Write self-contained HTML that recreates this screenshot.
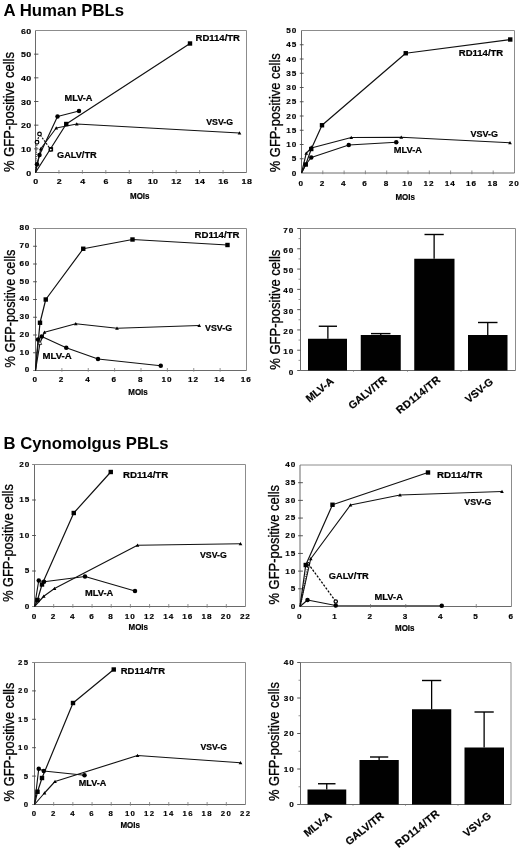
<!DOCTYPE html>
<html><head><meta charset="utf-8"><title>GFP-positive cells</title>
<style>
html,body{margin:0;padding:0;background:#fff;}
svg{display:block;font-family:"Liberation Sans", Arial, Helvetica, sans-serif;will-change:transform;opacity:0.999;}
.ti{font-size:16.2px;font-weight:bold;fill:#000;}
.tk{font-size:6.8px;font-weight:bold;fill:#000;letter-spacing:0.3px;stroke:#000;stroke-width:0.15px;}
.yl{fill:#000;stroke:#000;stroke-width:0.3px;}
.mo{font-size:8.6px;font-weight:bold;fill:#000;stroke:#000;stroke-width:0.2px;}
.lb{font-weight:bold;fill:#000;stroke:#000;stroke-width:0.2px;}
</style></head><body>
<svg width="520" height="850" viewBox="0 0 520 850">
<rect width="520" height="850" fill="#fff"/>
<text x="3.6" y="16.2" class="ti" textLength="120.6" lengthAdjust="spacingAndGlyphs">A Human PBLs</text>
<text x="3.5" y="449.2" class="ti" textLength="165" lengthAdjust="spacingAndGlyphs">B Cynomolgus PBLs</text>
<polyline points="35.5,30.5 246.5,30.5 246.5,172.5" fill="none" stroke="#8c8c8c" stroke-width="1"/>
<polyline points="35.5,30.5 35.5,172.5 246.5,172.5" fill="none" stroke="#6a6a6a" stroke-width="1"/>
<text transform="translate(35.90,184.20) scale(1.3,1)" class="tk" text-anchor="middle" style="letter-spacing:0.3px">0</text>
<line x1="58.94" y1="173.7" x2="58.94" y2="170.0" stroke="#777" stroke-width="0.8"/>
<text transform="translate(59.34,184.20) scale(1.3,1)" class="tk" text-anchor="middle" style="letter-spacing:0.3px">2</text>
<line x1="82.39" y1="173.7" x2="82.39" y2="170.0" stroke="#777" stroke-width="0.8"/>
<text transform="translate(82.78,184.20) scale(1.3,1)" class="tk" text-anchor="middle" style="letter-spacing:0.3px">4</text>
<line x1="105.83" y1="173.7" x2="105.83" y2="170.0" stroke="#777" stroke-width="0.8"/>
<text transform="translate(106.23,184.20) scale(1.3,1)" class="tk" text-anchor="middle" style="letter-spacing:0.3px">6</text>
<line x1="129.28" y1="173.7" x2="129.28" y2="170.0" stroke="#777" stroke-width="0.8"/>
<text transform="translate(129.67,184.20) scale(1.3,1)" class="tk" text-anchor="middle" style="letter-spacing:0.3px">8</text>
<line x1="152.72" y1="173.7" x2="152.72" y2="170.0" stroke="#777" stroke-width="0.8"/>
<text transform="translate(153.12,184.20) scale(1.3,1)" class="tk" text-anchor="middle" style="letter-spacing:0.3px">10</text>
<line x1="176.17" y1="173.7" x2="176.17" y2="170.0" stroke="#777" stroke-width="0.8"/>
<text transform="translate(176.56,184.20) scale(1.3,1)" class="tk" text-anchor="middle" style="letter-spacing:0.3px">12</text>
<line x1="199.61" y1="173.7" x2="199.61" y2="170.0" stroke="#777" stroke-width="0.8"/>
<text transform="translate(200.01,184.20) scale(1.3,1)" class="tk" text-anchor="middle" style="letter-spacing:0.3px">14</text>
<line x1="223.06" y1="173.7" x2="223.06" y2="170.0" stroke="#777" stroke-width="0.8"/>
<text transform="translate(223.45,184.20) scale(1.3,1)" class="tk" text-anchor="middle" style="letter-spacing:0.3px">16</text>
<text transform="translate(246.89,184.20) scale(1.3,1)" class="tk" text-anchor="middle" style="letter-spacing:0.3px">18</text>
<text transform="translate(31.52,175.70) scale(1.3,1)" class="tk" text-anchor="end" style="letter-spacing:0.3px">0</text>
<line x1="34.1" y1="148.83" x2="38.4" y2="148.83" stroke="#444" stroke-width="0.9"/>
<text transform="translate(31.52,152.03) scale(1.3,1)" class="tk" text-anchor="end" style="letter-spacing:0.3px">10</text>
<line x1="34.1" y1="125.17" x2="38.4" y2="125.17" stroke="#444" stroke-width="0.9"/>
<text transform="translate(31.52,128.37) scale(1.3,1)" class="tk" text-anchor="end" style="letter-spacing:0.3px">20</text>
<line x1="34.1" y1="101.50" x2="38.4" y2="101.50" stroke="#444" stroke-width="0.9"/>
<text transform="translate(31.52,104.70) scale(1.3,1)" class="tk" text-anchor="end" style="letter-spacing:0.3px">30</text>
<line x1="34.1" y1="77.83" x2="38.4" y2="77.83" stroke="#444" stroke-width="0.9"/>
<text transform="translate(31.52,81.03) scale(1.3,1)" class="tk" text-anchor="end" style="letter-spacing:0.3px">40</text>
<line x1="34.1" y1="54.17" x2="38.4" y2="54.17" stroke="#444" stroke-width="0.9"/>
<text transform="translate(31.52,57.37) scale(1.3,1)" class="tk" text-anchor="end" style="letter-spacing:0.3px">50</text>
<text transform="translate(31.52,33.70) scale(1.3,1)" class="tk" text-anchor="end" style="letter-spacing:0.3px">60</text>
<text transform="translate(14.4,112) rotate(-90)" text-anchor="middle" class="yl" style="font-size:15.3px" textLength="120" lengthAdjust="spacingAndGlyphs">% GFP-positive cells</text>
<text x="130.0" y="198.75" class="mo" textLength="19.5" lengthAdjust="spacingAndGlyphs">MOIs</text>
<polyline points="35.50,172.50 37.00,142.25" fill="none" stroke="#222" stroke-width="1.0" stroke-dasharray="1.1,1.1" stroke-linejoin="round"/>
<polyline points="37.00,142.25 39.50,134.00 50.75,149.60" fill="none" stroke="#111" stroke-width="1.1" stroke-dasharray="2,1.3" stroke-linejoin="round"/>
<polyline points="35.50,172.50 66.25,124.00 190.00,43.50" fill="none" stroke="#111" stroke-width="1.2" stroke-linejoin="round"/>
<polyline points="35.50,172.50 37.00,164.25 39.50,155.00 57.50,116.50 79.00,111.00" fill="none" stroke="#111" stroke-width="1.15" stroke-linejoin="round"/>
<polyline points="35.50,172.50 40.75,148.75 56.25,128.00 76.75,124.00 239.50,133.00" fill="none" stroke="#111" stroke-width="1.12" stroke-linejoin="round"/>
<rect x="48.70" y="147.10" width="4.4" height="4.4" fill="#000"/>
<rect x="64.05" y="121.80" width="4.4" height="4.4" fill="#000"/>
<rect x="187.80" y="41.30" width="4.4" height="4.4" fill="#000"/>
<circle cx="37.00" cy="164.25" r="2.25" fill="#000"/>
<circle cx="39.50" cy="155.00" r="2.25" fill="#000"/>
<circle cx="57.50" cy="116.50" r="2.25" fill="#000"/>
<circle cx="79.00" cy="111.00" r="2.25" fill="#000"/>
<polygon points="40.75,146.90 38.90,150.23 42.60,150.23" fill="#000"/>
<polygon points="56.25,126.15 54.40,129.48 58.10,129.48" fill="#000"/>
<polygon points="76.75,122.15 74.90,125.48 78.60,125.48" fill="#000"/>
<polygon points="239.50,131.15 237.65,134.48 241.35,134.48" fill="#000"/>
<circle cx="37.00" cy="142.25" r="1.8" fill="#fff" stroke="#000" stroke-width="1.2"/>
<circle cx="39.50" cy="134.00" r="1.8" fill="#fff" stroke="#000" stroke-width="1.2"/>
<circle cx="50.75" cy="149.60" r="1.5" fill="#fff" stroke="#000" stroke-width="1.2"/>
<text x="195.5" y="40.75" class="lb" text-anchor="start" style="font-size:8.8px" textLength="44.50" lengthAdjust="spacingAndGlyphs">RD114/TR</text>
<text x="64.5" y="100.5" class="lb" text-anchor="start" style="font-size:8.8px" textLength="28.00" lengthAdjust="spacingAndGlyphs">MLV-A</text>
<text x="206.25" y="125" class="lb" text-anchor="start" style="font-size:8.8px" textLength="26.75" lengthAdjust="spacingAndGlyphs">VSV-G</text>
<text x="57" y="158" class="lb" text-anchor="start" style="font-size:8.8px" textLength="39.70" lengthAdjust="spacingAndGlyphs">GALV/TR</text>
<polyline points="301.5,30.5 514.5,30.5 514.5,173" fill="none" stroke="#8c8c8c" stroke-width="1"/>
<polyline points="301.5,30.5 301.5,173 514.5,173" fill="none" stroke="#6a6a6a" stroke-width="1"/>
<text transform="translate(301.18,185.50) scale(1.2,1)" class="tk" text-anchor="middle" style="letter-spacing:0.8px">0</text>
<line x1="322.80" y1="174.2" x2="322.80" y2="170.5" stroke="#777" stroke-width="0.8"/>
<text transform="translate(322.48,185.50) scale(1.2,1)" class="tk" text-anchor="middle" style="letter-spacing:0.8px">2</text>
<line x1="344.10" y1="174.2" x2="344.10" y2="170.5" stroke="#777" stroke-width="0.8"/>
<text transform="translate(343.78,185.50) scale(1.2,1)" class="tk" text-anchor="middle" style="letter-spacing:0.8px">4</text>
<line x1="365.40" y1="174.2" x2="365.40" y2="170.5" stroke="#777" stroke-width="0.8"/>
<text transform="translate(365.08,185.50) scale(1.2,1)" class="tk" text-anchor="middle" style="letter-spacing:0.8px">6</text>
<line x1="386.70" y1="174.2" x2="386.70" y2="170.5" stroke="#777" stroke-width="0.8"/>
<text transform="translate(386.38,185.50) scale(1.2,1)" class="tk" text-anchor="middle" style="letter-spacing:0.8px">8</text>
<line x1="408.00" y1="174.2" x2="408.00" y2="170.5" stroke="#777" stroke-width="0.8"/>
<text transform="translate(407.68,185.50) scale(1.2,1)" class="tk" text-anchor="middle" style="letter-spacing:0.8px">10</text>
<line x1="429.30" y1="174.2" x2="429.30" y2="170.5" stroke="#777" stroke-width="0.8"/>
<text transform="translate(428.98,185.50) scale(1.2,1)" class="tk" text-anchor="middle" style="letter-spacing:0.8px">12</text>
<line x1="450.60" y1="174.2" x2="450.60" y2="170.5" stroke="#777" stroke-width="0.8"/>
<text transform="translate(450.28,185.50) scale(1.2,1)" class="tk" text-anchor="middle" style="letter-spacing:0.8px">14</text>
<line x1="471.90" y1="174.2" x2="471.90" y2="170.5" stroke="#777" stroke-width="0.8"/>
<text transform="translate(471.58,185.50) scale(1.2,1)" class="tk" text-anchor="middle" style="letter-spacing:0.8px">16</text>
<line x1="493.20" y1="174.2" x2="493.20" y2="170.5" stroke="#777" stroke-width="0.8"/>
<text transform="translate(492.88,185.50) scale(1.2,1)" class="tk" text-anchor="middle" style="letter-spacing:0.8px">18</text>
<text transform="translate(514.18,185.50) scale(1.2,1)" class="tk" text-anchor="middle" style="letter-spacing:0.8px">20</text>
<text transform="translate(297.26,175.70) scale(1.2,1)" class="tk" text-anchor="end" style="letter-spacing:0.8px">0</text>
<line x1="299.8" y1="158.75" x2="303.6" y2="158.75" stroke="#444" stroke-width="0.9"/>
<text transform="translate(297.26,161.45) scale(1.2,1)" class="tk" text-anchor="end" style="letter-spacing:0.8px">5</text>
<line x1="299.8" y1="144.50" x2="303.6" y2="144.50" stroke="#444" stroke-width="0.9"/>
<text transform="translate(297.26,147.20) scale(1.2,1)" class="tk" text-anchor="end" style="letter-spacing:0.8px">10</text>
<line x1="299.8" y1="130.25" x2="303.6" y2="130.25" stroke="#444" stroke-width="0.9"/>
<text transform="translate(297.26,132.95) scale(1.2,1)" class="tk" text-anchor="end" style="letter-spacing:0.8px">15</text>
<line x1="299.8" y1="116.00" x2="303.6" y2="116.00" stroke="#444" stroke-width="0.9"/>
<text transform="translate(297.26,118.70) scale(1.2,1)" class="tk" text-anchor="end" style="letter-spacing:0.8px">20</text>
<line x1="299.8" y1="101.75" x2="303.6" y2="101.75" stroke="#444" stroke-width="0.9"/>
<text transform="translate(297.26,104.45) scale(1.2,1)" class="tk" text-anchor="end" style="letter-spacing:0.8px">25</text>
<line x1="299.8" y1="87.50" x2="303.6" y2="87.50" stroke="#444" stroke-width="0.9"/>
<text transform="translate(297.26,90.20) scale(1.2,1)" class="tk" text-anchor="end" style="letter-spacing:0.8px">30</text>
<line x1="299.8" y1="73.25" x2="303.6" y2="73.25" stroke="#444" stroke-width="0.9"/>
<text transform="translate(297.26,75.95) scale(1.2,1)" class="tk" text-anchor="end" style="letter-spacing:0.8px">35</text>
<line x1="299.8" y1="59.00" x2="303.6" y2="59.00" stroke="#444" stroke-width="0.9"/>
<text transform="translate(297.26,61.70) scale(1.2,1)" class="tk" text-anchor="end" style="letter-spacing:0.8px">40</text>
<line x1="299.8" y1="44.75" x2="303.6" y2="44.75" stroke="#444" stroke-width="0.9"/>
<text transform="translate(297.26,47.45) scale(1.2,1)" class="tk" text-anchor="end" style="letter-spacing:0.8px">45</text>
<text transform="translate(297.26,33.20) scale(1.2,1)" class="tk" text-anchor="end" style="letter-spacing:0.8px">50</text>
<text transform="translate(279.6,112.7) rotate(-90)" text-anchor="middle" class="yl" style="font-size:15.3px" textLength="119" lengthAdjust="spacingAndGlyphs">% GFP-positive cells</text>
<text x="395.45" y="200" class="mo" textLength="19.5" lengthAdjust="spacingAndGlyphs">MOIs</text>
<polyline points="301.50,173.00 305.75,164.50 311.25,149.00 322.00,125.25 405.75,53.25 510.25,39.50" fill="none" stroke="#111" stroke-width="1.2" stroke-linejoin="round"/>
<polyline points="301.50,173.00 306.25,153.25 311.25,148.00 351.25,137.50 401.25,137.25 510.00,142.75" fill="none" stroke="#111" stroke-width="1.12" stroke-linejoin="round"/>
<polyline points="301.50,173.00 305.75,164.50 311.25,157.50 348.75,145.00 396.25,142.25" fill="none" stroke="#111" stroke-width="1.12" stroke-linejoin="round"/>
<rect x="303.55" y="162.30" width="4.4" height="4.4" fill="#000"/>
<rect x="309.05" y="146.80" width="4.4" height="4.4" fill="#000"/>
<rect x="319.80" y="123.05" width="4.4" height="4.4" fill="#000"/>
<rect x="403.55" y="51.05" width="4.4" height="4.4" fill="#000"/>
<rect x="508.05" y="37.30" width="4.4" height="4.4" fill="#000"/>
<polygon points="306.25,151.40 304.40,154.73 308.10,154.73" fill="#000"/>
<polygon points="311.25,145.15 309.40,148.48 313.10,148.48" fill="#000"/>
<polygon points="351.25,135.65 349.40,138.98 353.10,138.98" fill="#000"/>
<polygon points="401.25,135.40 399.40,138.73 403.10,138.73" fill="#000"/>
<polygon points="510.00,140.90 508.15,144.23 511.85,144.23" fill="#000"/>
<circle cx="311.25" cy="157.50" r="2.25" fill="#000"/>
<circle cx="348.75" cy="145.00" r="2.25" fill="#000"/>
<circle cx="396.25" cy="142.25" r="2.25" fill="#000"/>
<text x="458.75" y="55.75" class="lb" text-anchor="start" style="font-size:8.8px" textLength="44.50" lengthAdjust="spacingAndGlyphs">RD114/TR</text>
<text x="470.5" y="136.75" class="lb" text-anchor="start" style="font-size:8.8px" textLength="27.50" lengthAdjust="spacingAndGlyphs">VSV-G</text>
<text x="393.75" y="153" class="lb" text-anchor="start" style="font-size:8.8px" textLength="28.25" lengthAdjust="spacingAndGlyphs">MLV-A</text>
<polyline points="35.5,228.5 246.5,228.5 246.5,370.5" fill="none" stroke="#8c8c8c" stroke-width="1"/>
<polyline points="35.5,228.5 35.5,370.5 246.5,370.5" fill="none" stroke="#6a6a6a" stroke-width="1"/>
<text transform="translate(35.18,382.40) scale(1.2,1)" class="tk" text-anchor="middle" style="letter-spacing:0.8px">0</text>
<line x1="61.88" y1="371.7" x2="61.88" y2="368.0" stroke="#777" stroke-width="0.8"/>
<text transform="translate(61.55,382.40) scale(1.2,1)" class="tk" text-anchor="middle" style="letter-spacing:0.8px">2</text>
<line x1="88.25" y1="371.7" x2="88.25" y2="368.0" stroke="#777" stroke-width="0.8"/>
<text transform="translate(87.93,382.40) scale(1.2,1)" class="tk" text-anchor="middle" style="letter-spacing:0.8px">4</text>
<line x1="114.62" y1="371.7" x2="114.62" y2="368.0" stroke="#777" stroke-width="0.8"/>
<text transform="translate(114.31,382.40) scale(1.2,1)" class="tk" text-anchor="middle" style="letter-spacing:0.8px">6</text>
<line x1="141.00" y1="371.7" x2="141.00" y2="368.0" stroke="#777" stroke-width="0.8"/>
<text transform="translate(140.68,382.40) scale(1.2,1)" class="tk" text-anchor="middle" style="letter-spacing:0.8px">8</text>
<line x1="167.38" y1="371.7" x2="167.38" y2="368.0" stroke="#777" stroke-width="0.8"/>
<text transform="translate(167.05,382.40) scale(1.2,1)" class="tk" text-anchor="middle" style="letter-spacing:0.8px">10</text>
<line x1="193.75" y1="371.7" x2="193.75" y2="368.0" stroke="#777" stroke-width="0.8"/>
<text transform="translate(193.43,382.40) scale(1.2,1)" class="tk" text-anchor="middle" style="letter-spacing:0.8px">12</text>
<line x1="220.12" y1="371.7" x2="220.12" y2="368.0" stroke="#777" stroke-width="0.8"/>
<text transform="translate(219.80,382.40) scale(1.2,1)" class="tk" text-anchor="middle" style="letter-spacing:0.8px">14</text>
<text transform="translate(246.18,382.40) scale(1.2,1)" class="tk" text-anchor="middle" style="letter-spacing:0.8px">16</text>
<line x1="33.1" y1="370.50" x2="35.5" y2="370.50" stroke="#666" stroke-width="0.8"/>
<text transform="translate(30.14,372.30) scale(1.2,1)" class="tk" text-anchor="end" style="letter-spacing:0.7px">0</text>
<line x1="33.1" y1="352.75" x2="36.9" y2="352.75" stroke="#444" stroke-width="0.9"/>
<text transform="translate(30.14,354.55) scale(1.2,1)" class="tk" text-anchor="end" style="letter-spacing:0.7px">10</text>
<line x1="33.1" y1="335.00" x2="36.9" y2="335.00" stroke="#444" stroke-width="0.9"/>
<text transform="translate(30.14,336.80) scale(1.2,1)" class="tk" text-anchor="end" style="letter-spacing:0.7px">20</text>
<line x1="33.1" y1="317.25" x2="36.9" y2="317.25" stroke="#444" stroke-width="0.9"/>
<text transform="translate(30.14,319.05) scale(1.2,1)" class="tk" text-anchor="end" style="letter-spacing:0.7px">30</text>
<line x1="33.1" y1="299.50" x2="36.9" y2="299.50" stroke="#444" stroke-width="0.9"/>
<text transform="translate(30.14,301.30) scale(1.2,1)" class="tk" text-anchor="end" style="letter-spacing:0.7px">40</text>
<line x1="33.1" y1="281.75" x2="36.9" y2="281.75" stroke="#444" stroke-width="0.9"/>
<text transform="translate(30.14,283.55) scale(1.2,1)" class="tk" text-anchor="end" style="letter-spacing:0.7px">50</text>
<line x1="33.1" y1="264.00" x2="36.9" y2="264.00" stroke="#444" stroke-width="0.9"/>
<text transform="translate(30.14,265.80) scale(1.2,1)" class="tk" text-anchor="end" style="letter-spacing:0.7px">60</text>
<line x1="33.1" y1="246.25" x2="36.9" y2="246.25" stroke="#444" stroke-width="0.9"/>
<text transform="translate(30.14,248.05) scale(1.2,1)" class="tk" text-anchor="end" style="letter-spacing:0.7px">70</text>
<line x1="33.1" y1="228.50" x2="35.5" y2="228.50" stroke="#666" stroke-width="0.8"/>
<text transform="translate(30.14,230.30) scale(1.2,1)" class="tk" text-anchor="end" style="letter-spacing:0.7px">80</text>
<text transform="translate(14.5,308.5) rotate(-90)" text-anchor="middle" class="yl" style="font-size:15.3px" textLength="118" lengthAdjust="spacingAndGlyphs">% GFP-positive cells</text>
<text x="128.25" y="395" class="mo" textLength="19.5" lengthAdjust="spacingAndGlyphs">MOIs</text>
<polyline points="35.50,370.50 40.00,322.75 45.75,299.50 83.25,248.75 132.50,239.50 227.50,245.00" fill="none" stroke="#111" stroke-width="1.2" stroke-linejoin="round"/>
<polyline points="35.50,370.50 40.00,343.00 44.50,332.25 75.75,323.75 117.00,328.25 199.25,325.50" fill="none" stroke="#111" stroke-width="1.12" stroke-linejoin="round"/>
<polyline points="35.50,370.50 38.00,339.50 41.75,336.50 66.25,347.75 98.00,359.00 160.75,365.75" fill="none" stroke="#111" stroke-width="1.12" stroke-linejoin="round"/>
<rect x="37.80" y="320.55" width="4.4" height="4.4" fill="#000"/>
<rect x="43.55" y="297.30" width="4.4" height="4.4" fill="#000"/>
<rect x="81.05" y="246.55" width="4.4" height="4.4" fill="#000"/>
<rect x="130.30" y="237.30" width="4.4" height="4.4" fill="#000"/>
<rect x="225.30" y="242.80" width="4.4" height="4.4" fill="#000"/>
<polygon points="44.50,330.40 42.65,333.73 46.35,333.73" fill="#000"/>
<polygon points="75.75,321.90 73.90,325.23 77.60,325.23" fill="#000"/>
<polygon points="117.00,326.40 115.15,329.73 118.85,329.73" fill="#000"/>
<polygon points="199.25,323.65 197.40,326.98 201.10,326.98" fill="#000"/>
<circle cx="38.00" cy="339.50" r="2.25" fill="#000"/>
<circle cx="41.75" cy="336.50" r="2.25" fill="#000"/>
<circle cx="66.25" cy="347.75" r="2.25" fill="#000"/>
<circle cx="98.00" cy="359.00" r="2.25" fill="#000"/>
<circle cx="160.75" cy="365.75" r="2.25" fill="#000"/>
<polygon points="40,340.5 38.3,344.5 41.7,344.5" fill="#fff" stroke="#111" stroke-width="0.8"/>
<text x="194.5" y="237.5" class="lb" text-anchor="start" style="font-size:8.8px" textLength="45.00" lengthAdjust="spacingAndGlyphs">RD114/TR</text>
<text x="205" y="330.5" class="lb" text-anchor="start" style="font-size:8.8px" textLength="27.00" lengthAdjust="spacingAndGlyphs">VSV-G</text>
<text x="42.5" y="359.25" class="lb" text-anchor="start" style="font-size:8.8px" textLength="29.25" lengthAdjust="spacingAndGlyphs">MLV-A</text>
<polyline points="300.5,228.5 515.5,228.5 515.5,370.5" fill="none" stroke="#8c8c8c" stroke-width="1"/>
<polyline points="300.5,228.5 300.5,370.5 515.5,370.5" fill="none" stroke="#6a6a6a" stroke-width="1"/>
<line x1="297.2" y1="370.50" x2="300.5" y2="370.50" stroke="#444" stroke-width="0.9"/>
<text transform="translate(294.16,374.50) scale(1.2,1)" class="tk" text-anchor="end" style="letter-spacing:0.8px">0</text>
<line x1="297.2" y1="350.21" x2="300.5" y2="350.21" stroke="#444" stroke-width="0.9"/>
<text transform="translate(294.16,354.21) scale(1.2,1)" class="tk" text-anchor="end" style="letter-spacing:0.8px">10</text>
<line x1="297.2" y1="329.93" x2="300.5" y2="329.93" stroke="#444" stroke-width="0.9"/>
<text transform="translate(294.16,333.93) scale(1.2,1)" class="tk" text-anchor="end" style="letter-spacing:0.8px">20</text>
<line x1="297.2" y1="309.64" x2="300.5" y2="309.64" stroke="#444" stroke-width="0.9"/>
<text transform="translate(294.16,313.64) scale(1.2,1)" class="tk" text-anchor="end" style="letter-spacing:0.8px">30</text>
<line x1="297.2" y1="289.36" x2="300.5" y2="289.36" stroke="#444" stroke-width="0.9"/>
<text transform="translate(294.16,293.36) scale(1.2,1)" class="tk" text-anchor="end" style="letter-spacing:0.8px">40</text>
<line x1="297.2" y1="269.07" x2="300.5" y2="269.07" stroke="#444" stroke-width="0.9"/>
<text transform="translate(294.16,273.07) scale(1.2,1)" class="tk" text-anchor="end" style="letter-spacing:0.8px">50</text>
<line x1="297.2" y1="248.79" x2="300.5" y2="248.79" stroke="#444" stroke-width="0.9"/>
<text transform="translate(294.16,252.79) scale(1.2,1)" class="tk" text-anchor="end" style="letter-spacing:0.8px">60</text>
<line x1="297.2" y1="228.50" x2="300.5" y2="228.50" stroke="#444" stroke-width="0.9"/>
<text transform="translate(294.16,232.50) scale(1.2,1)" class="tk" text-anchor="end" style="letter-spacing:0.8px">70</text>
<line x1="298.5" y1="360.36" x2="300.5" y2="360.36" stroke="#666" stroke-width="0.7"/>
<line x1="298.5" y1="340.07" x2="300.5" y2="340.07" stroke="#666" stroke-width="0.7"/>
<line x1="298.5" y1="319.79" x2="300.5" y2="319.79" stroke="#666" stroke-width="0.7"/>
<line x1="298.5" y1="299.50" x2="300.5" y2="299.50" stroke="#666" stroke-width="0.7"/>
<line x1="298.5" y1="279.21" x2="300.5" y2="279.21" stroke="#666" stroke-width="0.7"/>
<line x1="298.5" y1="258.93" x2="300.5" y2="258.93" stroke="#666" stroke-width="0.7"/>
<line x1="298.5" y1="238.64" x2="300.5" y2="238.64" stroke="#666" stroke-width="0.7"/>
<text transform="translate(279.6,309.7) rotate(-90)" text-anchor="middle" class="yl" style="font-size:15.3px" textLength="120" lengthAdjust="spacingAndGlyphs">% GFP-positive cells</text>
<rect x="308" y="338.75" width="39" height="31.75" fill="#000"/>
<line x1="327.875" y1="338.75" x2="327.875" y2="326.25" stroke="#000" stroke-width="1.3"/>
<line x1="318.75" y1="326.25" x2="337" y2="326.25" stroke="#000" stroke-width="1.4"/>
<rect x="360.75" y="335" width="40.0" height="35.5" fill="#000"/>
<line x1="380.75" y1="335" x2="380.75" y2="333.6" stroke="#000" stroke-width="1.3"/>
<line x1="371" y1="333.6" x2="390.5" y2="333.6" stroke="#000" stroke-width="1.4"/>
<rect x="414.25" y="258.75" width="40.25" height="111.75" fill="#000"/>
<line x1="434.125" y1="258.75" x2="434.125" y2="234.5" stroke="#000" stroke-width="1.3"/>
<line x1="424.5" y1="234.5" x2="443.75" y2="234.5" stroke="#000" stroke-width="1.4"/>
<rect x="468" y="335" width="39.5" height="35.5" fill="#000"/>
<line x1="487.75" y1="335" x2="487.75" y2="322.5" stroke="#000" stroke-width="1.3"/>
<line x1="478" y1="322.5" x2="497.5" y2="322.5" stroke="#000" stroke-width="1.4"/>
<line x1="353.5" y1="370.5" x2="353.5" y2="372.0" stroke="#777" stroke-width="0.6"/>
<line x1="407.5" y1="370.5" x2="407.5" y2="372.0" stroke="#777" stroke-width="0.6"/>
<line x1="461" y1="370.5" x2="461" y2="372.0" stroke="#777" stroke-width="0.6"/>
<text transform="translate(334.5,382.5) rotate(-39)" text-anchor="end" class="lb" style="font-size:10.6px">MLV-A</text>
<text transform="translate(387.5,381) rotate(-39)" text-anchor="end" class="lb" style="font-size:10.6px">GALV/TR</text>
<text transform="translate(441,381) rotate(-39)" text-anchor="end" class="lb" style="font-size:10.6px" textLength="53" lengthAdjust="spacing">RD114/TR</text>
<text transform="translate(494,383) rotate(-39)" text-anchor="end" class="lb" style="font-size:10.6px">VSV-G</text>
<polyline points="34.5,464.5 245.5,464.5 245.5,606.5" fill="none" stroke="#8c8c8c" stroke-width="1"/>
<polyline points="34.5,464.5 34.5,606.5 245.5,606.5" fill="none" stroke="#6a6a6a" stroke-width="1"/>
<text transform="translate(34.38,618.90) scale(1.2,1)" class="tk" text-anchor="middle" style="letter-spacing:0.8px">0</text>
<line x1="53.68" y1="607.7" x2="53.68" y2="604.0" stroke="#777" stroke-width="0.8"/>
<text transform="translate(53.56,618.90) scale(1.2,1)" class="tk" text-anchor="middle" style="letter-spacing:0.8px">2</text>
<line x1="72.86" y1="607.7" x2="72.86" y2="604.0" stroke="#777" stroke-width="0.8"/>
<text transform="translate(72.74,618.90) scale(1.2,1)" class="tk" text-anchor="middle" style="letter-spacing:0.8px">4</text>
<line x1="92.05" y1="607.7" x2="92.05" y2="604.0" stroke="#777" stroke-width="0.8"/>
<text transform="translate(91.93,618.90) scale(1.2,1)" class="tk" text-anchor="middle" style="letter-spacing:0.8px">6</text>
<line x1="111.23" y1="607.7" x2="111.23" y2="604.0" stroke="#777" stroke-width="0.8"/>
<text transform="translate(111.11,618.90) scale(1.2,1)" class="tk" text-anchor="middle" style="letter-spacing:0.8px">8</text>
<line x1="130.41" y1="607.7" x2="130.41" y2="604.0" stroke="#777" stroke-width="0.8"/>
<text transform="translate(130.29,618.90) scale(1.2,1)" class="tk" text-anchor="middle" style="letter-spacing:0.8px">10</text>
<line x1="149.59" y1="607.7" x2="149.59" y2="604.0" stroke="#777" stroke-width="0.8"/>
<text transform="translate(149.47,618.90) scale(1.2,1)" class="tk" text-anchor="middle" style="letter-spacing:0.8px">12</text>
<line x1="168.77" y1="607.7" x2="168.77" y2="604.0" stroke="#777" stroke-width="0.8"/>
<text transform="translate(168.65,618.90) scale(1.2,1)" class="tk" text-anchor="middle" style="letter-spacing:0.8px">14</text>
<line x1="187.95" y1="607.7" x2="187.95" y2="604.0" stroke="#777" stroke-width="0.8"/>
<text transform="translate(187.83,618.90) scale(1.2,1)" class="tk" text-anchor="middle" style="letter-spacing:0.8px">16</text>
<line x1="207.14" y1="607.7" x2="207.14" y2="604.0" stroke="#777" stroke-width="0.8"/>
<text transform="translate(207.02,618.90) scale(1.2,1)" class="tk" text-anchor="middle" style="letter-spacing:0.8px">18</text>
<line x1="226.32" y1="607.7" x2="226.32" y2="604.0" stroke="#777" stroke-width="0.8"/>
<text transform="translate(226.20,618.90) scale(1.2,1)" class="tk" text-anchor="middle" style="letter-spacing:0.8px">20</text>
<text transform="translate(245.38,618.90) scale(1.2,1)" class="tk" text-anchor="middle" style="letter-spacing:0.8px">22</text>
<line x1="32.1" y1="606.50" x2="34.5" y2="606.50" stroke="#666" stroke-width="0.8"/>
<text transform="translate(30.38,608.80) scale(1.2,1)" class="tk" text-anchor="end" style="letter-spacing:0.9px">0</text>
<line x1="32.1" y1="571.00" x2="35.9" y2="571.00" stroke="#444" stroke-width="0.9"/>
<text transform="translate(30.38,573.30) scale(1.2,1)" class="tk" text-anchor="end" style="letter-spacing:0.9px">5</text>
<line x1="32.1" y1="535.50" x2="35.9" y2="535.50" stroke="#444" stroke-width="0.9"/>
<text transform="translate(30.38,537.80) scale(1.2,1)" class="tk" text-anchor="end" style="letter-spacing:0.9px">10</text>
<line x1="32.1" y1="500.00" x2="35.9" y2="500.00" stroke="#444" stroke-width="0.9"/>
<text transform="translate(30.38,502.30) scale(1.2,1)" class="tk" text-anchor="end" style="letter-spacing:0.9px">15</text>
<line x1="32.1" y1="464.50" x2="34.5" y2="464.50" stroke="#666" stroke-width="0.8"/>
<text transform="translate(30.38,466.80) scale(1.2,1)" class="tk" text-anchor="end" style="letter-spacing:0.9px">20</text>
<text transform="translate(13.3,543) rotate(-90)" text-anchor="middle" class="yl" style="font-size:15.3px" textLength="117.5" lengthAdjust="spacingAndGlyphs">% GFP-positive cells</text>
<text x="128.5" y="630" class="mo" textLength="19.5" lengthAdjust="spacingAndGlyphs">MOIs</text>
<polyline points="34.50,606.50 37.50,600.00 42.00,584.50 73.75,513.00 110.75,472.00" fill="none" stroke="#111" stroke-width="1.2" stroke-linejoin="round"/>
<polyline points="34.50,606.50 38.75,580.50 44.00,581.75 85.00,576.50 135.00,591.00" fill="none" stroke="#111" stroke-width="1.12" stroke-linejoin="round"/>
<polyline points="34.50,606.50 43.75,596.25 54.50,588.50 137.50,545.25 240.50,543.75" fill="none" stroke="#111" stroke-width="1.12" stroke-linejoin="round"/>
<rect x="35.30" y="597.80" width="4.4" height="4.4" fill="#000"/>
<rect x="39.80" y="582.30" width="4.4" height="4.4" fill="#000"/>
<rect x="71.55" y="510.80" width="4.4" height="4.4" fill="#000"/>
<rect x="108.55" y="469.80" width="4.4" height="4.4" fill="#000"/>
<circle cx="38.75" cy="580.50" r="2.25" fill="#000"/>
<circle cx="44.00" cy="581.75" r="2.25" fill="#000"/>
<circle cx="85.00" cy="576.50" r="2.25" fill="#000"/>
<circle cx="135.00" cy="591.00" r="2.25" fill="#000"/>
<polygon points="43.75,594.40 41.90,597.73 45.60,597.73" fill="#000"/>
<polygon points="54.50,586.65 52.65,589.98 56.35,589.98" fill="#000"/>
<polygon points="137.50,543.40 135.65,546.73 139.35,546.73" fill="#000"/>
<polygon points="240.50,541.90 238.65,545.23 242.35,545.23" fill="#000"/>
<text x="123" y="477.5" class="lb" text-anchor="start" style="font-size:8.8px" textLength="45.25" lengthAdjust="spacingAndGlyphs">RD114/TR</text>
<text x="200" y="557.5" class="lb" text-anchor="start" style="font-size:8.8px" textLength="26.75" lengthAdjust="spacingAndGlyphs">VSV-G</text>
<text x="85" y="596.25" class="lb" text-anchor="start" style="font-size:8.8px" textLength="28.25" lengthAdjust="spacingAndGlyphs">MLV-A</text>
<polyline points="300,465 511.5,465 511.5,606.5" fill="none" stroke="#8c8c8c" stroke-width="1"/>
<polyline points="300,465 300,606.5 511.5,606.5" fill="none" stroke="#6a6a6a" stroke-width="1"/>
<text transform="translate(299.68,618.90) scale(1.2,1)" class="tk" text-anchor="middle" style="letter-spacing:0.8px">0</text>
<line x1="335.25" y1="607.7" x2="335.25" y2="604.0" stroke="#777" stroke-width="0.8"/>
<text transform="translate(334.93,618.90) scale(1.2,1)" class="tk" text-anchor="middle" style="letter-spacing:0.8px">1</text>
<line x1="370.50" y1="607.7" x2="370.50" y2="604.0" stroke="#777" stroke-width="0.8"/>
<text transform="translate(370.18,618.90) scale(1.2,1)" class="tk" text-anchor="middle" style="letter-spacing:0.8px">2</text>
<line x1="405.75" y1="607.7" x2="405.75" y2="604.0" stroke="#777" stroke-width="0.8"/>
<text transform="translate(405.43,618.90) scale(1.2,1)" class="tk" text-anchor="middle" style="letter-spacing:0.8px">3</text>
<line x1="441.00" y1="607.7" x2="441.00" y2="604.0" stroke="#777" stroke-width="0.8"/>
<text transform="translate(440.68,618.90) scale(1.2,1)" class="tk" text-anchor="middle" style="letter-spacing:0.8px">4</text>
<line x1="476.25" y1="607.7" x2="476.25" y2="604.0" stroke="#777" stroke-width="0.8"/>
<text transform="translate(475.93,618.90) scale(1.2,1)" class="tk" text-anchor="middle" style="letter-spacing:0.8px">5</text>
<text transform="translate(511.18,618.90) scale(1.2,1)" class="tk" text-anchor="middle" style="letter-spacing:0.8px">6</text>
<text transform="translate(296.38,608.90) scale(1.2,1)" class="tk" text-anchor="end" style="letter-spacing:0.9px">0</text>
<line x1="298.1" y1="588.81" x2="302.9" y2="588.81" stroke="#444" stroke-width="0.9"/>
<text transform="translate(296.38,591.21) scale(1.2,1)" class="tk" text-anchor="end" style="letter-spacing:0.9px">5</text>
<line x1="298.1" y1="571.12" x2="302.9" y2="571.12" stroke="#444" stroke-width="0.9"/>
<text transform="translate(296.38,573.52) scale(1.2,1)" class="tk" text-anchor="end" style="letter-spacing:0.9px">10</text>
<line x1="298.1" y1="553.44" x2="302.9" y2="553.44" stroke="#444" stroke-width="0.9"/>
<text transform="translate(296.38,555.84) scale(1.2,1)" class="tk" text-anchor="end" style="letter-spacing:0.9px">15</text>
<line x1="298.1" y1="535.75" x2="302.9" y2="535.75" stroke="#444" stroke-width="0.9"/>
<text transform="translate(296.38,538.15) scale(1.2,1)" class="tk" text-anchor="end" style="letter-spacing:0.9px">20</text>
<line x1="298.1" y1="518.06" x2="302.9" y2="518.06" stroke="#444" stroke-width="0.9"/>
<text transform="translate(296.38,520.46) scale(1.2,1)" class="tk" text-anchor="end" style="letter-spacing:0.9px">25</text>
<line x1="298.1" y1="500.38" x2="302.9" y2="500.38" stroke="#444" stroke-width="0.9"/>
<text transform="translate(296.38,502.77) scale(1.2,1)" class="tk" text-anchor="end" style="letter-spacing:0.9px">30</text>
<line x1="298.1" y1="482.69" x2="302.9" y2="482.69" stroke="#444" stroke-width="0.9"/>
<text transform="translate(296.38,485.09) scale(1.2,1)" class="tk" text-anchor="end" style="letter-spacing:0.9px">35</text>
<text transform="translate(296.38,467.40) scale(1.2,1)" class="tk" text-anchor="end" style="letter-spacing:0.9px">40</text>
<text transform="translate(279.3,544.75) rotate(-90)" text-anchor="middle" class="yl" style="font-size:15.3px" textLength="119.5" lengthAdjust="spacingAndGlyphs">% GFP-positive cells</text>
<text x="395.0" y="631.25" class="mo" textLength="19.5" lengthAdjust="spacingAndGlyphs">MOIs</text>
<polyline points="300.00,606.50 308.60,563.75" fill="none" stroke="#555" stroke-width="1.8" stroke-dasharray="1.2,1.1" stroke-linejoin="round"/>
<polyline points="308.25,563.75 335.75,601.50" fill="none" stroke="#000" stroke-width="1.25" stroke-dasharray="2.2,1.5" stroke-linejoin="round"/>
<polyline points="300.00,606.50 305.75,565.00 332.50,504.75 428.00,472.50" fill="none" stroke="#111" stroke-width="1.2" stroke-linejoin="round"/>
<polyline points="300.00,606.50 310.75,558.75 350.50,505.00 400.00,495.00 502.00,491.50" fill="none" stroke="#111" stroke-width="1.12" stroke-linejoin="round"/>
<polyline points="300.00,606.50 307.50,600.00 335.75,605.50 441.75,605.75" fill="none" stroke="#111" stroke-width="1.12" stroke-linejoin="round"/>
<line x1="336" y1="605.8" x2="441" y2="605.8" stroke="#666" stroke-width="1.6"/>
<rect x="303.55" y="562.80" width="4.4" height="4.4" fill="#000"/>
<rect x="330.30" y="502.55" width="4.4" height="4.4" fill="#000"/>
<rect x="425.80" y="470.30" width="4.4" height="4.4" fill="#000"/>
<polygon points="310.75,556.90 308.90,560.23 312.60,560.23" fill="#000"/>
<polygon points="350.50,503.15 348.65,506.48 352.35,506.48" fill="#000"/>
<polygon points="400.00,493.15 398.15,496.48 401.85,496.48" fill="#000"/>
<polygon points="502.00,489.65 500.15,492.98 503.85,492.98" fill="#000"/>
<circle cx="307.50" cy="600.00" r="2.25" fill="#000"/>
<circle cx="335.75" cy="605.50" r="2.25" fill="#000"/>
<circle cx="441.75" cy="605.75" r="2.25" fill="#000"/>
<circle cx="308.40" cy="563.75" r="1.2" fill="#fff" stroke="#000" stroke-width="1.2"/>
<circle cx="335.75" cy="601.50" r="1.7" fill="#fff" stroke="#000" stroke-width="1.2"/>
<text x="437" y="478.25" class="lb" text-anchor="start" style="font-size:8.8px" textLength="45.50" lengthAdjust="spacingAndGlyphs">RD114/TR</text>
<text x="464.25" y="505" class="lb" text-anchor="start" style="font-size:8.8px" textLength="27.00" lengthAdjust="spacingAndGlyphs">VSV-G</text>
<text x="328.75" y="579.25" class="lb" text-anchor="start" style="font-size:8.8px" textLength="40.00" lengthAdjust="spacingAndGlyphs">GALV/TR</text>
<text x="374.5" y="600" class="lb" text-anchor="start" style="font-size:8.8px" textLength="28.50" lengthAdjust="spacingAndGlyphs">MLV-A</text>
<polyline points="34.5,662.5 245.5,662.5 245.5,804.5" fill="none" stroke="#8c8c8c" stroke-width="1"/>
<polyline points="34.5,662.5 34.5,804.5 245.5,804.5" fill="none" stroke="#6a6a6a" stroke-width="1"/>
<text transform="translate(34.69,815.70) scale(1.15,1)" class="tk" text-anchor="middle" style="letter-spacing:1.2px">0</text>
<line x1="53.68" y1="805.7" x2="53.68" y2="802.0" stroke="#777" stroke-width="0.8"/>
<text transform="translate(53.87,815.70) scale(1.15,1)" class="tk" text-anchor="middle" style="letter-spacing:1.2px">2</text>
<line x1="72.86" y1="805.7" x2="72.86" y2="802.0" stroke="#777" stroke-width="0.8"/>
<text transform="translate(73.05,815.70) scale(1.15,1)" class="tk" text-anchor="middle" style="letter-spacing:1.2px">4</text>
<line x1="92.05" y1="805.7" x2="92.05" y2="802.0" stroke="#777" stroke-width="0.8"/>
<text transform="translate(92.24,815.70) scale(1.15,1)" class="tk" text-anchor="middle" style="letter-spacing:1.2px">6</text>
<line x1="111.23" y1="805.7" x2="111.23" y2="802.0" stroke="#777" stroke-width="0.8"/>
<text transform="translate(111.42,815.70) scale(1.15,1)" class="tk" text-anchor="middle" style="letter-spacing:1.2px">8</text>
<line x1="130.41" y1="805.7" x2="130.41" y2="802.0" stroke="#777" stroke-width="0.8"/>
<text transform="translate(130.60,815.70) scale(1.15,1)" class="tk" text-anchor="middle" style="letter-spacing:1.2px">10</text>
<line x1="149.59" y1="805.7" x2="149.59" y2="802.0" stroke="#777" stroke-width="0.8"/>
<text transform="translate(149.78,815.70) scale(1.15,1)" class="tk" text-anchor="middle" style="letter-spacing:1.2px">12</text>
<line x1="168.77" y1="805.7" x2="168.77" y2="802.0" stroke="#777" stroke-width="0.8"/>
<text transform="translate(168.96,815.70) scale(1.15,1)" class="tk" text-anchor="middle" style="letter-spacing:1.2px">14</text>
<line x1="187.95" y1="805.7" x2="187.95" y2="802.0" stroke="#777" stroke-width="0.8"/>
<text transform="translate(188.14,815.70) scale(1.15,1)" class="tk" text-anchor="middle" style="letter-spacing:1.2px">16</text>
<line x1="207.14" y1="805.7" x2="207.14" y2="802.0" stroke="#777" stroke-width="0.8"/>
<text transform="translate(207.33,815.70) scale(1.15,1)" class="tk" text-anchor="middle" style="letter-spacing:1.2px">18</text>
<line x1="226.32" y1="805.7" x2="226.32" y2="802.0" stroke="#777" stroke-width="0.8"/>
<text transform="translate(226.51,815.70) scale(1.15,1)" class="tk" text-anchor="middle" style="letter-spacing:1.2px">20</text>
<text transform="translate(245.69,815.70) scale(1.15,1)" class="tk" text-anchor="middle" style="letter-spacing:1.2px">22</text>
<line x1="32.1" y1="804.50" x2="34.5" y2="804.50" stroke="#666" stroke-width="0.8"/>
<text transform="translate(29.68,806.90) scale(1.15,1)" class="tk" text-anchor="end" style="letter-spacing:1.3px">0</text>
<line x1="32.1" y1="776.10" x2="35.9" y2="776.10" stroke="#444" stroke-width="0.9"/>
<text transform="translate(29.68,778.50) scale(1.15,1)" class="tk" text-anchor="end" style="letter-spacing:1.3px">5</text>
<line x1="32.1" y1="747.70" x2="35.9" y2="747.70" stroke="#444" stroke-width="0.9"/>
<text transform="translate(29.68,750.10) scale(1.15,1)" class="tk" text-anchor="end" style="letter-spacing:1.3px">10</text>
<line x1="32.1" y1="719.30" x2="35.9" y2="719.30" stroke="#444" stroke-width="0.9"/>
<text transform="translate(29.68,721.70) scale(1.15,1)" class="tk" text-anchor="end" style="letter-spacing:1.3px">15</text>
<line x1="32.1" y1="690.90" x2="35.9" y2="690.90" stroke="#444" stroke-width="0.9"/>
<text transform="translate(29.68,693.30) scale(1.15,1)" class="tk" text-anchor="end" style="letter-spacing:1.3px">20</text>
<line x1="32.1" y1="662.50" x2="34.5" y2="662.50" stroke="#666" stroke-width="0.8"/>
<text transform="translate(29.68,664.90) scale(1.15,1)" class="tk" text-anchor="end" style="letter-spacing:1.3px">25</text>
<text transform="translate(14.25,742) rotate(-90)" text-anchor="middle" class="yl" style="font-size:15.3px" textLength="118.75" lengthAdjust="spacingAndGlyphs">% GFP-positive cells</text>
<text x="120.44999999999999" y="828" class="mo" textLength="19.5" lengthAdjust="spacingAndGlyphs">MOIs</text>
<polyline points="34.50,804.50 37.50,791.75 42.00,778.00 73.00,703.00 113.75,669.50" fill="none" stroke="#111" stroke-width="1.2" stroke-linejoin="round"/>
<polyline points="34.50,804.50 38.75,768.75 43.75,771.00 84.50,775.25" fill="none" stroke="#111" stroke-width="1.12" stroke-linejoin="round"/>
<polyline points="34.50,804.50 44.50,793.00 55.00,781.50 137.50,755.50 240.50,762.75" fill="none" stroke="#111" stroke-width="1.12" stroke-linejoin="round"/>
<rect x="35.30" y="789.55" width="4.4" height="4.4" fill="#000"/>
<rect x="39.80" y="775.80" width="4.4" height="4.4" fill="#000"/>
<rect x="70.80" y="700.80" width="4.4" height="4.4" fill="#000"/>
<rect x="111.55" y="667.30" width="4.4" height="4.4" fill="#000"/>
<circle cx="38.75" cy="768.75" r="2.25" fill="#000"/>
<circle cx="43.75" cy="771.00" r="2.25" fill="#000"/>
<circle cx="84.50" cy="775.25" r="2.25" fill="#000"/>
<polygon points="44.50,791.15 42.65,794.48 46.35,794.48" fill="#000"/>
<polygon points="55.00,779.65 53.15,782.98 56.85,782.98" fill="#000"/>
<polygon points="137.50,753.65 135.65,756.98 139.35,756.98" fill="#000"/>
<polygon points="240.50,760.90 238.65,764.23 242.35,764.23" fill="#000"/>
<text x="120.75" y="674.25" class="lb" text-anchor="start" style="font-size:8.8px" textLength="44.25" lengthAdjust="spacingAndGlyphs">RD114/TR</text>
<text x="200.5" y="750" class="lb" text-anchor="start" style="font-size:8.8px" textLength="26.50" lengthAdjust="spacingAndGlyphs">VSV-G</text>
<text x="78.75" y="786.25" class="lb" text-anchor="start" style="font-size:8.8px" textLength="27.50" lengthAdjust="spacingAndGlyphs">MLV-A</text>
<polyline points="300.5,662.5 511,662.5 511,804.5" fill="none" stroke="#8c8c8c" stroke-width="1"/>
<polyline points="300.5,662.5 300.5,804.5 511,804.5" fill="none" stroke="#6a6a6a" stroke-width="1"/>
<line x1="297.2" y1="804.50" x2="300.5" y2="804.50" stroke="#444" stroke-width="0.9"/>
<text transform="translate(294.86,807.10) scale(1.2,1)" class="tk" text-anchor="end" style="letter-spacing:0.8px">0</text>
<line x1="297.2" y1="769.00" x2="300.5" y2="769.00" stroke="#444" stroke-width="0.9"/>
<text transform="translate(294.86,771.60) scale(1.2,1)" class="tk" text-anchor="end" style="letter-spacing:0.8px">10</text>
<line x1="297.2" y1="733.50" x2="300.5" y2="733.50" stroke="#444" stroke-width="0.9"/>
<text transform="translate(294.86,736.10) scale(1.2,1)" class="tk" text-anchor="end" style="letter-spacing:0.8px">20</text>
<line x1="297.2" y1="698.00" x2="300.5" y2="698.00" stroke="#444" stroke-width="0.9"/>
<text transform="translate(294.86,700.60) scale(1.2,1)" class="tk" text-anchor="end" style="letter-spacing:0.8px">30</text>
<line x1="297.2" y1="662.50" x2="300.5" y2="662.50" stroke="#444" stroke-width="0.9"/>
<text transform="translate(294.86,665.10) scale(1.2,1)" class="tk" text-anchor="end" style="letter-spacing:0.8px">40</text>
<line x1="298.5" y1="786.75" x2="300.5" y2="786.75" stroke="#666" stroke-width="0.7"/>
<line x1="298.5" y1="751.25" x2="300.5" y2="751.25" stroke="#666" stroke-width="0.7"/>
<line x1="298.5" y1="715.75" x2="300.5" y2="715.75" stroke="#666" stroke-width="0.7"/>
<line x1="298.5" y1="680.25" x2="300.5" y2="680.25" stroke="#666" stroke-width="0.7"/>
<text transform="translate(279,741.6) rotate(-90)" text-anchor="middle" class="yl" style="font-size:15.3px" textLength="119" lengthAdjust="spacingAndGlyphs">% GFP-positive cells</text>
<rect x="307.5" y="789.5" width="38.75" height="15.0" fill="#000"/>
<line x1="326.75" y1="789.5" x2="326.75" y2="783.75" stroke="#000" stroke-width="1.3"/>
<line x1="318" y1="783.75" x2="335.5" y2="783.75" stroke="#000" stroke-width="1.4"/>
<rect x="359.5" y="760" width="39.25" height="44.5" fill="#000"/>
<line x1="379.125" y1="760" x2="379.125" y2="757" stroke="#000" stroke-width="1.3"/>
<line x1="370" y1="757" x2="388.25" y2="757" stroke="#000" stroke-width="1.4"/>
<rect x="412" y="709.25" width="39.25" height="95.25" fill="#000"/>
<line x1="431.625" y1="709.25" x2="431.625" y2="680.5" stroke="#000" stroke-width="1.3"/>
<line x1="422" y1="680.5" x2="441.25" y2="680.5" stroke="#000" stroke-width="1.4"/>
<rect x="464.5" y="747.5" width="39.5" height="57.0" fill="#000"/>
<line x1="484.125" y1="747.5" x2="484.125" y2="712" stroke="#000" stroke-width="1.3"/>
<line x1="474.5" y1="712" x2="493.75" y2="712" stroke="#000" stroke-width="1.4"/>
<line x1="353" y1="804.5" x2="353" y2="806.0" stroke="#777" stroke-width="0.6"/>
<line x1="405.5" y1="804.5" x2="405.5" y2="806.0" stroke="#777" stroke-width="0.6"/>
<line x1="458" y1="804.5" x2="458" y2="806.0" stroke="#777" stroke-width="0.6"/>
<text transform="translate(332.5,817) rotate(-39)" text-anchor="end" class="lb" style="font-size:10.6px">MLV-A</text>
<text transform="translate(384.5,817) rotate(-39)" text-anchor="end" class="lb" style="font-size:10.6px">GALV/TR</text>
<text transform="translate(440,815) rotate(-39)" text-anchor="end" class="lb" style="font-size:10.6px" textLength="53" lengthAdjust="spacing">RD114/TR</text>
<text transform="translate(492,817) rotate(-39)" text-anchor="end" class="lb" style="font-size:10.6px">VSV-G</text>
</svg>
</body></html>
